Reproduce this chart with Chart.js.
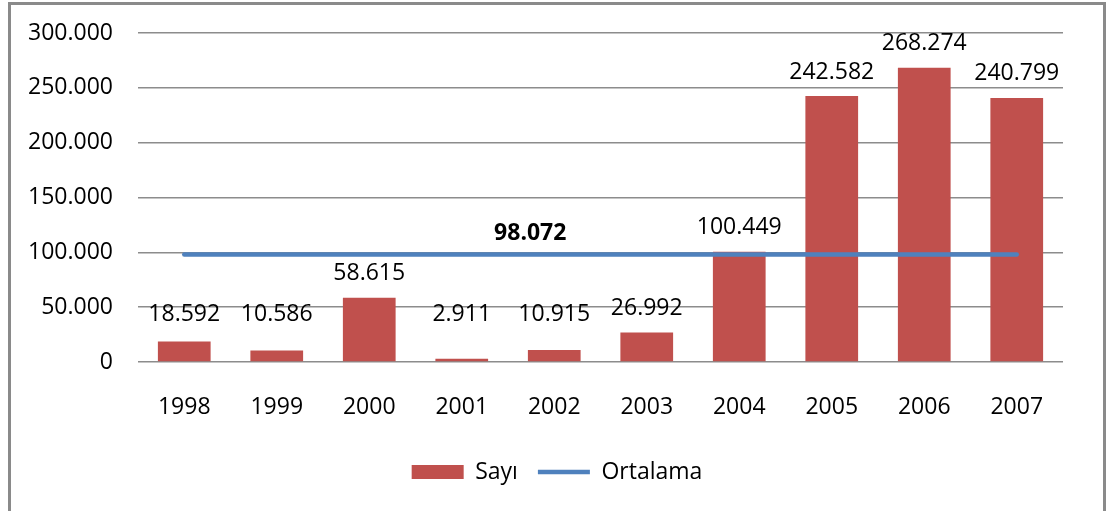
<!DOCTYPE html>
<html>
<head>
<meta charset="utf-8">
<script src="https://cdn.jsdelivr.net/npm/chart.js@4.4.1/dist/chart.umd.min.js"></script>
<style>
  html, body { margin: 0; padding: 0; background: #fff; overflow: hidden; }
  #frame {
    position: absolute; left: 8px; top: 2px;
    width: 1092px; height: 520px;
    border: 3px solid #8a8a8a;
  }
  #chart { display: block; }
</style>
</head>
<body>
<div id="frame">
  <canvas id="chart" width="1092" height="506"></canvas>
</div>
<script>
// Years on the x axis
var years = ['1998', '1999', '2000', '2001', '2002', '2003', '2004', '2005', '2006', '2007'];
// Sayı (count) per year
var sayi = [18592, 10586, 58615, 2911, 10915, 26992, 100449, 242582, 268274, 240799];
// Ortalama (average) line
var ortalama = [98072, 98072, 98072, 98072, 98072, 98072, 98072, 98072, 98072, 98072];
var ortalamaLabel = '98.072';
// y axis range
var yMin = 0, yMax = 300000, yStep = 50000;

var FONT = '"Open Sans", "Liberation Sans", sans-serif';

// 18592 -> "18.592"
function fmt(v) {
    return String(v).replace(/\B(?=(\d{3})+(?!\d))/g, '.');
}

// Values above the bars and the average label
var valueLabels = {
    id: 'valueLabels',
    afterDatasetsDraw: function(chart) {
        var ctx = chart.ctx;
        var meta = chart.getDatasetMeta(0);
        var yScale = chart.scales.y;
        var xScale = chart.scales.x;
        var floorY = yScale.getPixelForValue(43000);
        ctx.save();
        ctx.fillStyle = '#000';
        ctx.textAlign = 'center';
        ctx.textBaseline = 'middle';
        ctx.font = '23px ' + FONT;
        meta.data.forEach(function(bar, i) {
            var y = Math.min(bar.y - 24, floorY);
            ctx.fillText(fmt(sayi[i]), bar.x, y);
        });
        // average label
        ctx.font = 'bold 23px ' + FONT;
        ctx.fillText(ortalamaLabel, xScale.getPixelForValue(4) - 24, yScale.getPixelForValue(ortalama[0]) - 21);
        ctx.restore();
    }
};

// Center the legend on the whole frame, not only the padded part
var legendShift = {
    id: 'legendShift',
    afterLayout: function(chart) {
        if (chart.legend) {
            chart.legend.right = chart.width;
        }
    }
};

var ctx = document.getElementById('chart');
var chart = new Chart(ctx, {
    data: {
        labels: years,
        datasets: [{
            type: 'bar',
            label: 'Sayı',
            data: sayi,
            backgroundColor: '#C0504D',
            borderWidth: 0,
            pointStyle: 'rect',
            categoryPercentage: 1,
            barPercentage: 0.57,
            order: 1
        }, {
            type: 'line',
            label: 'Ortalama',
            data: ortalama,
            borderColor: '#4F81BD',
            backgroundColor: '#4F81BD',
            borderWidth: 4.5,
            borderCapStyle: 'round',
            pointRadius: 0,
            pointStyle: 'line',
            fill: false,
            order: 0
        }]
    },
    options: {
        responsive: false,
        animation: false,
        devicePixelRatio: 1,
        layout: {
            padding: { left: 0, right: 40, top: 28, bottom: 17.5 }
        },
        scales: {
            x: {
                grid: { display: false },
                border: { display: false },
                ticks: {
                    color: '#000',
                    padding: 24,
                    font: { family: FONT, size: 23 }
                },
                afterFit: function(scale) { scale.height = 78.5; }
            },
            y: {
                min: yMin,
                max: yMax,
                // invisible tick marks give the gap between labels and gridlines
                grid: { color: '#8c8c8c', lineWidth: 1.5, drawTicks: true, tickLength: 25, tickColor: 'rgba(0,0,0,0)' },
                border: { display: false },
                ticks: {
                    stepSize: yStep,
                    color: '#000',
                    padding: 0,
                    font: { family: FONT, size: 23 },
                    callback: function(v) { return fmt(v); }
                },
                afterFit: function(scale) { scale.width = 127; }
            }
        },
        plugins: {
            legend: {
                position: 'bottom',
                labels: {
                    usePointStyle: true,
                    pointStyleWidth: 52,
                    boxHeight: 14,
                    padding: 20,
                    color: '#000',
                    font: { family: FONT, size: 23 },
                    sort: function(a, b) { return a.datasetIndex - b.datasetIndex; }
                }
            },
            tooltip: { enabled: false }
        }
    },
    plugins: [valueLabels, legendShift]
});
</script>
</body>
</html>
